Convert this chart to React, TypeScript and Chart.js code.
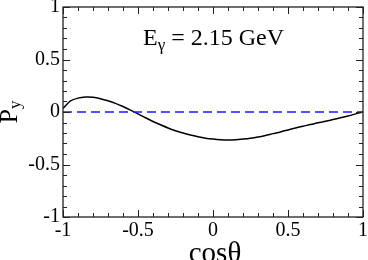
import React, { useEffect, useRef } from "react";
import { Chart, registerables } from "chart.js";

Chart.register(...registerables);

// cos(theta) sample positions
const cosTheta = [
  -1, -0.95, -0.9, -0.85, -0.8, -0.75, -0.7, -0.65, -0.6, -0.55, -0.5,
  -0.45, -0.4, -0.35, -0.3, -0.25, -0.2, -0.15, -0.1, -0.05, 0,
  0.05, 0.1, 0.15, 0.2, 0.25, 0.3, 0.35, 0.4, 0.45, 0.5,
  0.55, 0.6, 0.65, 0.7, 0.75, 0.8, 0.85, 0.9, 0.95, 1,
];
// Py polarization values
const pyValues = [
  0.035, 0.105, 0.132, 0.142, 0.14, 0.127, 0.107, 0.082, 0.052, 0.018, -0.018,
  -0.055, -0.09, -0.122, -0.152, -0.178, -0.2, -0.22, -0.236, -0.249, -0.258,
  -0.264, -0.266, -0.264, -0.258, -0.25, -0.238, -0.223, -0.206, -0.19, -0.171,
  -0.152, -0.135, -0.12, -0.103, -0.088, -0.072, -0.055, -0.038, -0.018, 0,
];
// reference zero line
const zeroX = [-1, 1];
const zeroY = [0, 0];

const xTicks = [-1, -0.5, 0, 0.5, 1];
const yTicks = [-1, -0.5, 0, 0.5, 1];
const minorStep = 0.1;

const energyText = " = 2.15 GeV";
const xTitle = "cosθ";

const SERIF = "'Liberation Serif', 'Times New Roman', serif";

const decorPlugin = {
  id: "decor",
  afterDraw(chart: any) {
    const { ctx, chartArea } = chart;
    const xs = chart.scales.x;
    const ys = chart.scales.y;
    const { left, right, top, bottom } = chartArea;
    ctx.save();
    // frame
    ctx.strokeStyle = "#222";
    ctx.lineWidth = 1.3;
    ctx.strokeRect(left, top, right - left, bottom - top);
    // ticks
    ctx.lineWidth = 1;
    const majorLen = 7;
    const minorLen = 4;
    const isMajor = (v: number, arr: number[]) =>
      arr.some((t) => Math.abs(t - v) < 1e-6);
    for (let i = 0; i <= 20; i++) {
      const v = -1 + i * minorStep;
      const len = isMajor(v, xTicks) ? majorLen : minorLen;
      const px = Math.round(xs.getPixelForValue(v)) + 0.5;
      ctx.beginPath();
      ctx.moveTo(px, bottom);
      ctx.lineTo(px, bottom - len);
      ctx.moveTo(px, top);
      ctx.lineTo(px, top + len);
      ctx.stroke();
    }
    for (let i = 0; i <= 20; i++) {
      const v = -1 + i * minorStep;
      const len = isMajor(v, yTicks) ? majorLen : minorLen;
      const py = Math.round(ys.getPixelForValue(v)) + 0.5;
      ctx.beginPath();
      ctx.moveTo(left, py);
      ctx.lineTo(left + len, py);
      ctx.moveTo(right, py);
      ctx.lineTo(right - len, py);
      ctx.stroke();
    }
    ctx.fillStyle = "#000";
    // x title
    ctx.font = `29px ${SERIF}`;
    ctx.textAlign = "center";
    ctx.textBaseline = "alphabetic";
    ctx.fillText(xTitle, (left + right) / 2 + 2, 262);
    // y title P_y rotated
    ctx.save();
    ctx.translate(17, 123.5);
    ctx.rotate(-Math.PI / 2);
    ctx.textAlign = "left";
    ctx.font = `26px ${SERIF}`;
    ctx.fillText("P", 0, 0);
    const pw = ctx.measureText("P").width;
    ctx.font = `17px ${SERIF}`;
    ctx.fillText("y", pw, 3);
    ctx.restore();
    // annotation E_gamma = 2.15 GeV
    ctx.textAlign = "left";
    let x0 = 143;
    ctx.font = `24px ${SERIF}`;
    ctx.fillText("E", x0, 45);
    x0 += ctx.measureText("E").width;
    ctx.font = `17px ${SERIF}`;
    ctx.fillText("γ", x0, 50);
    x0 += ctx.measureText("γ").width;
    ctx.font = `24px ${SERIF}`;
    ctx.fillText(energyText, x0, 45);
    ctx.restore();
  },
};

export default function App() {
  const ref = useRef<HTMLCanvasElement | null>(null);
  useEffect(() => {
    if (!ref.current) return;
    const chart = new Chart(ref.current, {
      type: "line",
      data: {
        datasets: [
          {
            data: zeroX.map((x, i) => ({ x, y: zeroY[i] })),
            borderColor: "#1a1aff",
            borderWidth: 1.6,
            borderDash: [9, 5],
            pointRadius: 0,
            fill: false,
          },
          {
            data: cosTheta.map((x, i) => ({ x, y: pyValues[i] })),
            borderColor: "#000",
            borderWidth: 1.5,
            pointRadius: 0,
            tension: 0.3,
            fill: false,
          },
        ],
      },
      options: {
        responsive: false,
        animation: false,
        devicePixelRatio: 1,
        layout: { padding: { top: 7, right: 5, left: 0, bottom: 0 } },
        plugins: {
          legend: { display: false },
          tooltip: { enabled: false },
          title: { display: false },
        },
        scales: {
          x: {
            type: "linear",
            min: -1,
            max: 1,
            grid: { display: false, drawTicks: false },
            border: { display: false },
            afterBuildTicks: (s: any) => {
              s.ticks = xTicks.map((v) => ({ value: v }));
            },
            afterFit: (s: any) => {
              s.height = 43;
              s.paddingLeft = 0;
              s.paddingRight = 0;
            },
            ticks: {
              color: "#000",
              padding: 2,
              maxRotation: 0,
              autoSkip: false,
              font: { family: SERIF, size: 20 },
              callback: (v: any) => String(v),
            },
          },
          y: {
            type: "linear",
            min: -1,
            max: 1,
            grid: { display: false, drawTicks: false },
            border: { display: false },
            afterBuildTicks: (s: any) => {
              s.ticks = yTicks.map((v) => ({ value: v }));
            },
            afterFit: (s: any) => {
              s.width = 63;
              s.paddingTop = 0;
              s.paddingBottom = 0;
            },
            ticks: {
              color: "#000",
              padding: 3,
              autoSkip: false,
              font: { family: SERIF, size: 20 },
              callback: (v: any) => String(v),
            },
          },
        },
      },
      plugins: [decorPlugin],
    } as any);
    return () => chart.destroy();
  }, []);
  return (
    <div style={{ position: "fixed", left: 0, top: 0, width: 368, height: 260, background: "#fff" }}>
      <canvas ref={ref} width={368} height={260} style={{ display: "block" }} />
    </div>
  );
}
